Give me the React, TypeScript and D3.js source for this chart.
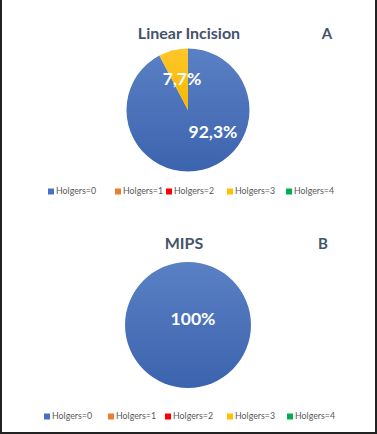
import React from "react";
import * as d3 from "d3";

const categories = ["Holgers=0", "Holgers=1", "Holgers=2", "Holgers=3", "Holgers=4"];
const colors = ["#4472C4", "#ED7D31", "#FF0000", "#FFC000", "#00B050"];
const linearValues = [92.3, 0, 0, 7.7, 0];
const mipsValues = [100, 0, 0, 0, 0];
const linearLabels = ["92,3%", "", "", "7,7%", ""];
const mipsLabels = ["100%", "", "", "", ""];

const W = 377;
const H = 434;

type PanelProps = {
  title: string;
  letter: string;
  values: number[];
  labels: string[];
  cx: number;
  cy: number;
  r: number;
  titleY: number;
  titleX: number;
  letterX: number;
  legendY: number;
  legendX: number[];
  labelPos: ([number, number] | null)[];
  gid: string;
};

function Panel(p: PanelProps) {
  const pie = d3.pie<number>().value((d) => d).sort(null);
  const arcs = pie(p.values);
  const arc = d3.arc<d3.PieArcDatum<number>>().innerRadius(0).outerRadius(p.r);
  return (
    <g>
      <defs>
        <linearGradient id={p.gid} x1="0" y1="0" x2="0" y2="1">
          <stop offset="0" stopColor="#5A80C4" />
          <stop offset="1" stopColor="#3C64AE" />
        </linearGradient>
        <linearGradient id={p.gid + "y"} x1="0" y1="0" x2="0" y2="1">
          <stop offset="0" stopColor="#FFC62A" />
          <stop offset="1" stopColor="#F5B800" />
        </linearGradient>
      </defs>
      <text x={p.titleX} y={p.titleY} textAnchor="middle" fontFamily="Lato, 'Open Sans', sans-serif" fontWeight="bold" fontSize={16} fill="#44546A">
        {p.title}
      </text>
      <text x={p.letterX} y={p.titleY} textAnchor="middle" fontFamily="Lato, 'Open Sans', sans-serif" fontWeight="bold" fontSize={15} fill="#44546A">
        {p.letter}
      </text>
      <g transform={`translate(${p.cx},${p.cy})`}>
        {arcs.map((a, i) =>
          a.value > 0 ? (
            a.endAngle - a.startAngle >= 2 * Math.PI - 1e-6 ? (
              <circle key={i} r={p.r} fill={`url(#${p.gid})`} />
            ) : (
              <path key={i} d={arc(a) || ""} fill={i === 3 ? `url(#${p.gid}y)` : `url(#${p.gid})`} stroke="none" />
            )
          ) : null
        )}
        {arcs.map((a, i) => {
          const pos = p.labelPos[i];
          if (!pos || !p.labels[i]) return null;
          return (
            <text key={"l" + i} x={pos[0]} y={pos[1]} textAnchor="middle" dominantBaseline="middle" fontFamily="Lato, 'Open Sans', sans-serif" fontWeight="bold" fontSize={17.5} fill="#FFFFFF">
              {p.labels[i]}
            </text>
          );
        })}
      </g>
      {categories.map((c, i) => (
        <g key={c} transform={`translate(${p.legendX[i]},${p.legendY})`}>
          <rect x={0} y={-3.5} width={6} height={6} fill={colors[i]} />
          <text x={8} y={0} dominantBaseline="middle" fontFamily="Lato, 'Open Sans', sans-serif" fontSize={9.5} fill="#595959" textLength={40} lengthAdjust="spacingAndGlyphs">
            {c}
          </text>
        </g>
      ))}
    </g>
  );
}

export default function App() {
  return (
    <svg width={W} height={H} style={{ position: "absolute", left: 0, top: 0, background: "#fff" }}>
      <rect x={0} y={0} width={W} height={H} fill="#fff" />
      <line x1={1} y1={0} x2={1} y2={H} stroke="#222" strokeWidth={2} />
      <line x1={W - 1} y1={0} x2={W - 1} y2={H} stroke="#222" strokeWidth={2} />
      <line x1={0} y1={H - 1} x2={W} y2={H - 1} stroke="#222" strokeWidth={2} />
      <Panel
        title="Linear Incision"
        letter="A"
        values={linearValues}
        labels={linearLabels}
        cx={188}
        cy={110}
        r={61.5}
        titleX={189}
        titleY={39}
        letterX={327}
        legendY={192}
        legendX={[48, 115, 166, 227, 286]}
        labelPos={[[25, 24], null, null, [-6, -29], null]}
        gid="gA"
      />
      <Panel
        title="MIPS"
        letter="B"
        values={mipsValues}
        labels={mipsLabels}
        cx={188}
        cy={325}
        r={63}
        titleX={184}
        titleY={249}
        letterX={323}
        legendY={417}
        legendX={[44, 108, 165, 227, 287]}
        labelPos={[[5, -4], null, null, null, null]}
        gid="gB"
      />
    </svg>
  );
}
